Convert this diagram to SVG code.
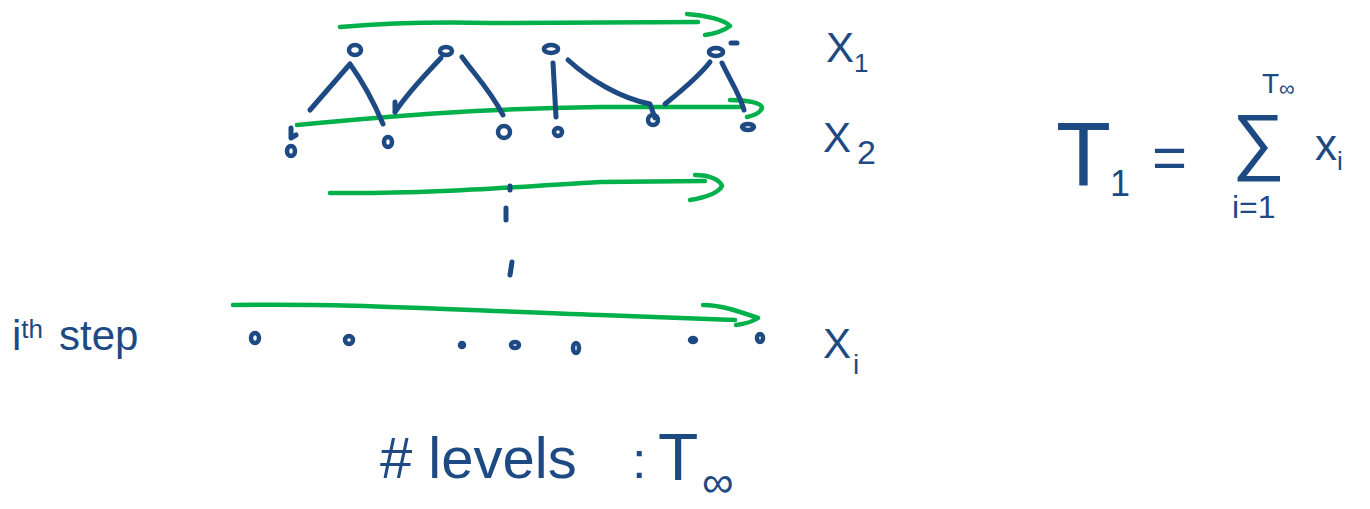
<svg xmlns="http://www.w3.org/2000/svg" width="1370" height="509" viewBox="0 0 1370 509">
<style>
.b{fill:none;stroke:#1e4a84;stroke-width:5;stroke-linecap:round;stroke-linejoin:round}
.g{fill:none;stroke:#00b04a;stroke-width:4.5;stroke-linecap:round;stroke-linejoin:round}
.n{fill:none;stroke:#1e4a84;stroke-width:4.5}
.t{fill:#1e4a84;font-family:"Liberation Sans",sans-serif}
</style>
<rect width="1370" height="509" fill="#fff"/>
<g id="connectors">
<path class="g" d="M340,27 C400,22 450,22 490,23 L698,22 M687,14 C705,15 725,20 730,26 C722,32 712,34 705,35"/>
<path class="g" d="M297,125 C400,115 480,109 600,107 L740,107 M730,100 C748,100 762,103 762,108 C760,114 752,116 747,117"/>
<path class="g" d="M330,193 C420,194 500,188 600,182 L705,181 M695,175 C710,175 720,180 722,186 C718,194 702,198 690,200"/>
<path class="g" d="M233,305 C350,303 450,310 600,315 L735,320 M703,305 C720,305 735,310 758,318 C752,322 744,324 736,325"/>
<path class="b" d="M350,64 L310,110 M350,64 C365,85 375,105 383,124"/>
<path class="b" d="M395,112 C410,90 425,75 441,58 M395,112 L395,102"/>
<path class="b" d="M462,57 C475,75 490,90 503,115"/>
<path class="b" d="M553,63 L556,117"/>
<path class="b" d="M568,60 C590,80 620,98 650,104 L655,118"/>
<path class="b" d="M665,104 C685,88 700,75 710,62"/>
<path class="b" d="M722,63 C730,80 740,95 744,110"/>
<path class="b" d="M291,128 L291,138 L296,135"/>
<path class="b" d="M510,186 L510,190 M506,208 L506,220 M512,262 L510,275"/>
</g>
<g id="level1">
<ellipse class="n" cx="355" cy="50" rx="6" ry="5"/>
<ellipse class="n" cx="446" cy="51" rx="6" ry="4"/>
<ellipse class="n" cx="551" cy="49" rx="7" ry="4"/>
<ellipse class="n" cx="716" cy="52" rx="7" ry="4"/>
<path class="b" d="M731,43 L737,43"/>
</g>
<g id="level2">
<ellipse class="n" cx="291" cy="151" rx="4" ry="5"/>
<ellipse class="n" cx="388" cy="142" rx="4" ry="5"/>
<ellipse class="n" cx="504" cy="132" rx="6" ry="6"/>
<ellipse class="n" cx="558" cy="132" rx="4" ry="4"/>
<ellipse class="n" cx="653" cy="120" rx="5" ry="5"/>
<ellipse class="n" cx="748" cy="127" rx="6" ry="3"/>
</g>
<g id="leveli">
<ellipse class="n" cx="255" cy="338" rx="4" ry="5"/>
<ellipse class="n" cx="349" cy="340" rx="4" ry="4"/>
<ellipse class="n" cx="462" cy="345" rx="2" ry="2"/>
<ellipse class="n" cx="515" cy="345" rx="4" ry="3"/>
<ellipse class="n" cx="576" cy="348" rx="3" ry="5"/>
<ellipse class="n" cx="693" cy="340" rx="3" ry="2"/>
<ellipse class="n" cx="760" cy="338" rx="3" ry="4"/>
</g>
<g id="label-x1"><text class="t" x="826" y="62" font-size="42">X<tspan font-size="26" dy="10">1</tspan></text></g>
<g id="label-x2"><text class="t" x="823" y="152" font-size="42">X<tspan font-size="34" dx="6" dy="12">2</tspan></text></g>
<g id="label-xi"><text class="t" x="823" y="358" font-size="42">X<tspan font-size="28" dx="2" dy="16">i</tspan></text></g>
<g id="label-step"><text class="t" x="12" y="350" font-size="42">i<tspan font-size="26" dy="-12">th</tspan><tspan dy="12" dx="16">step</tspan></text></g>
<g id="label-levels">
<text class="t" x="380" y="478" font-size="58"># levels</text>
<text class="t" x="632" y="478" font-size="52">:</text>
<text class="t" x="658" y="480" font-size="66">T</text>
<text class="t" x="702" y="497" font-size="44">∞</text>
</g>
<g id="formula">
<text class="t" x="1056" y="186" font-size="90">T</text>
<text class="t" x="1110" y="196" font-size="36">1</text>
<text class="t" x="1152" y="178" font-size="60">=</text>
<text class="t" x="1232" y="166" font-size="74">∑</text>
<text class="t" x="1262" y="93" font-size="28">T<tspan font-size="22" dy="3">∞</tspan></text>
<text class="t" x="1315" y="160" font-size="44">x<tspan font-size="26" dy="10">i</tspan></text>
<text class="t" x="1232" y="218" font-size="32">i=1</text>
</g>
</svg>
